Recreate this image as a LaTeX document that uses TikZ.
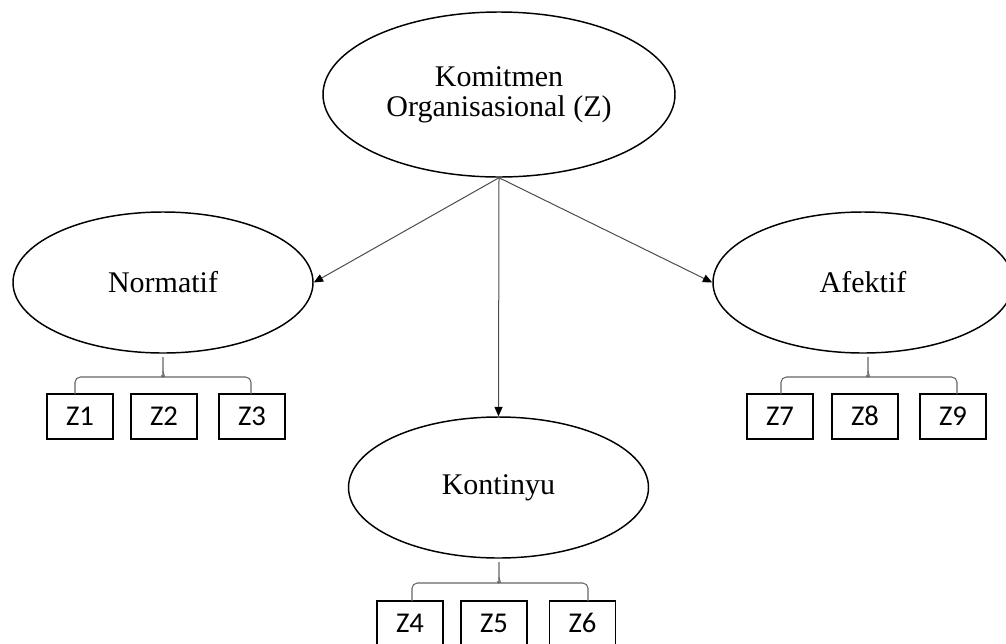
\documentclass[tikz,border=0pt]{standalone}
\usepackage{fontspec}
\setmainfont{Liberation Serif}
\newfontfamily\boxfont{Carlito}
\usetikzlibrary{shapes.geometric,arrows.meta}

\tikzset{
  construct/.style={ellipse, draw=black, line width=1.1pt, inner sep=0pt,
    minimum width=225pt, minimum height=105.75pt, align=center,
    font=\fontsize{22.5}{22.5}\selectfont},
  indicator/.style={rectangle, draw=black, line width=1.1pt, inner sep=0pt,
    minimum width=49.5pt, minimum height=33.75pt,
    text height=14pt, text depth=0pt,
    font=\boxfont\fontsize{21.5}{22}\selectfont},
  link/.style={draw=black!70, line width=0.75pt,
    -{Triangle[length=7pt,width=6pt,color=black]}},
  bracket/.style={draw=black!60, line width=0.8pt, rounded corners=4pt},
}

% curly bracket: left end, tip, right end (x), bar height, tip top, foot (y)
\newcommand\groupbrace[6]{%
  \draw[bracket] (#1,#6) -- (#1,#4) -- (#2-6,#4)
    to[out=0,in=-90] (#2,#4-6) -- (#2,#5);
  \draw[bracket] (#3,#6) -- (#3,#4) -- (#2+6,#4)
    to[out=180,in=-90] (#2,#4-6);
}

\begin{document}
\begin{tikzpicture}[x=0.75pt,y=-0.75pt]
\useasboundingbox (0,0) rectangle (1006,643);

% constructs
\node[construct, minimum width=264pt, minimum height=123.75pt] (kom) at (499,94.5)
  {Komitmen\\Organisasional (Z)};
\node[construct] (norm) at (163,282.5) {Normatif};
\node[construct] (afek) at (863,282.5) {Afektif};
\node[construct] (kont) at (498.5,487.5) {Kontinyu};

% indicators
\node[indicator] (z1) at (80,416.5)  {Z1};
\node[indicator] (z2) at (164,416.5) {Z2};
\node[indicator] (z3) at (252,416.5) {Z3};
\node[indicator] (z4) at (410,623.5) {Z4};
\node[indicator] (z5) at (494,623.5) {Z5};
\node[indicator] (z6) at (582.5,623.5) {Z6};
\node[indicator] (z7) at (780,416.5) {Z7};
\node[indicator] (z8) at (865,416.5) {Z8};
\node[indicator] (z9) at (953,416.5) {Z9};

% arrows from the main construct
\draw[link] (kom.south) -- (norm.east);
\draw[link] (kom.south) -- (afek.west);
\draw[link] (kom.south) -- (kont.north);

% brackets grouping the indicators
\groupbrace{75}{163}{251}{377}{357}{394}
\groupbrace{412}{499}{588}{583}{562}{601}
\groupbrace{781}{868}{957}{377}{357}{394}
\end{tikzpicture}
\end{document}
